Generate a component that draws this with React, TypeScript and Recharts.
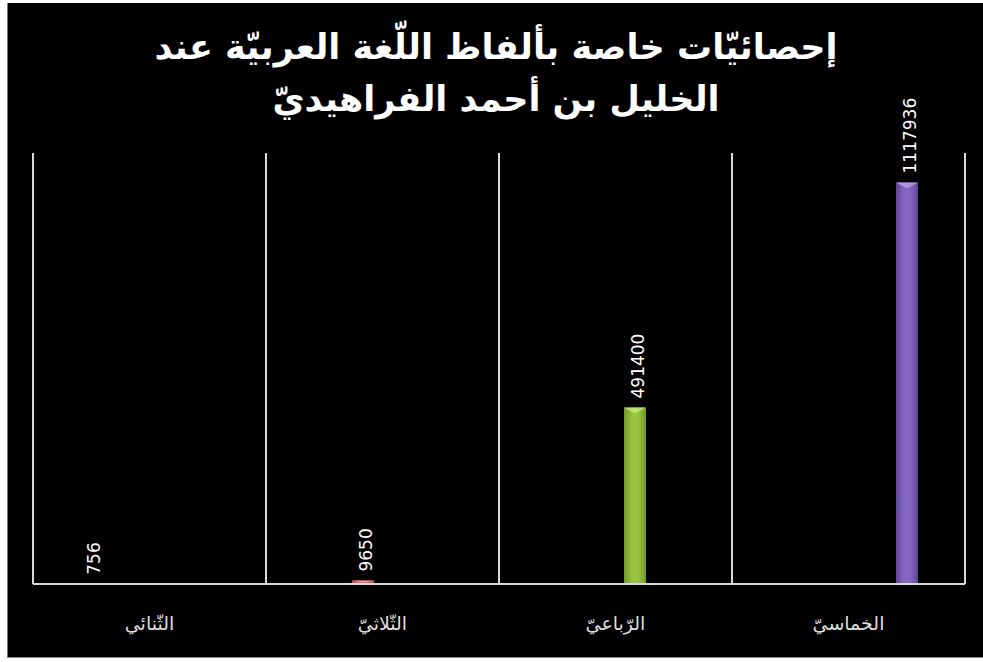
import React from 'react';
import { BarChart, Bar, XAxis, YAxis, CartesianGrid, LabelList } from 'recharts';

// categories along the x axis (one series per category, like the original sheet)
const categories = ['الثّنائي', 'الثّلاثيّ', 'الرّباعيّ', 'الخماسيّ'];
const wordCounts = [756, 9650, 491400, 1117936];
const yDomain = [0, 1200000];

const titleLines = ['إحصائيّات خاصة بألفاظ اللّغة العربيّة عند', 'الخليل بن أحمد الفراهيديّ'];

// bar colours: [edge, centre, top bevel]
const barColors = [
  ['#3f6fa8', '#5b8fd0', '#8fb6e6'],
  ['#c84f4f', '#e36b6b', '#f2a0a0'],
  ['#6f982a', '#98c43f', '#c4e27a'],
  ['#5e4596', '#8466c0', '#b49ae0'],
];

// each row only carries the value of its own series, the other slots stay empty
const data = categories.map((name, i) => {
  const row: Record<string, string | number | null> = { name };
  wordCounts.forEach((v, j) => {
    row['s' + j] = i === j ? v : null;
  });
  return row;
});

const BevelBar = (props: any) => {
  const { x, y, width, height, index, fill } = props;
  if (height == null || height <= 0 || width <= 0) return null;
  const bevel = Math.min(height, width / 2.2);
  return (
    <g>
      <rect x={x} y={y} width={width} height={height} fill={fill} />
      <polygon
        points={`${x},${y} ${x + width},${y} ${x + width / 2},${y + bevel * 0.6}`}
        fill={barColors[index]?.[2] ?? '#fff'}
        opacity={0.85}
      />
    </g>
  );
};

const RotatedLabel = (props: any) => {
  const { x, y, width, value } = props;
  if (value == null) return null;
  const cx = x + width / 2 + 3;
  const ty = y - 9;
  return (
    <text
      x={cx}
      y={ty}
      transform={`rotate(-90, ${cx}, ${ty})`}
      fill="#ffffff"
      fontSize={17}
      fontFamily="DejaVu Sans, sans-serif"
      textAnchor="start"
      dominantBaseline="central"
    >
      {value}
    </text>
  );
};

const App: React.FC = () => {
  return (
    <div
      style={{
        position: 'absolute',
        left: 7,
        top: 3,
        width: 976,
        height: 655,
        background: '#000',
        borderLeft: '1px solid #777',
        borderBottom: '1px solid #888',
        boxSizing: 'border-box',
      }}
    >
      <div
        dir="rtl"
        style={{
          position: 'absolute',
          top: 18,
          left: 0,
          width: 976,
          textAlign: 'center',
          color: '#fff',
          fontFamily: 'DejaVu Sans, sans-serif',
          fontWeight: 'bold',
          fontSize: 35,
          lineHeight: '52px',
        }}
      >
        {titleLines.map((t) => (
          <div key={t}>{t}</div>
        ))}
      </div>
      <BarChart
        width={975}
        height={654}
        data={data}
        margin={{ top: 150, right: 18, left: 25, bottom: 0 }}
        barSize={22}
        barGap={17}
        style={{ position: 'absolute', left: 0, top: 0 }}
      >
        <defs>
          {barColors.map((c, i) => (
            <linearGradient key={i} id={'bar' + i} x1="0" y1="0" x2="1" y2="0">
              <stop offset="0%" stopColor={c[0]} />
              <stop offset="35%" stopColor={c[1]} />
              <stop offset="65%" stopColor={c[1]} />
              <stop offset="100%" stopColor={c[0]} />
            </linearGradient>
          ))}
        </defs>
        <CartesianGrid
          horizontal={false}
          stroke="#d9d9d9"
          strokeWidth={2}
          verticalCoordinatesGenerator={({ offset }: any) =>
            [0, 1, 2, 3, 4].map((i) => offset.left + (i * offset.width) / 4)
          }
        />
        <XAxis
          dataKey="name"
          axisLine={{ stroke: '#d9d9d9', strokeWidth: 2 }}
          tickLine={false}
          height={73}
          tickMargin={27}
          tick={{ fill: '#dddddd', fontSize: 19, fontFamily: 'DejaVu Sans, sans-serif' }}
        />
        <YAxis hide domain={yDomain} />
        {wordCounts.map((_, j) => (
          <Bar
            key={j}
            dataKey={'s' + j}
            fill={`url(#bar${j})`}
            shape={<BevelBar index={j} />}
            isAnimationActive={false}
          >
            <LabelList dataKey={'s' + j} content={<RotatedLabel />} />
          </Bar>
        ))}
      </BarChart>
    </div>
  );
};

export default App;
